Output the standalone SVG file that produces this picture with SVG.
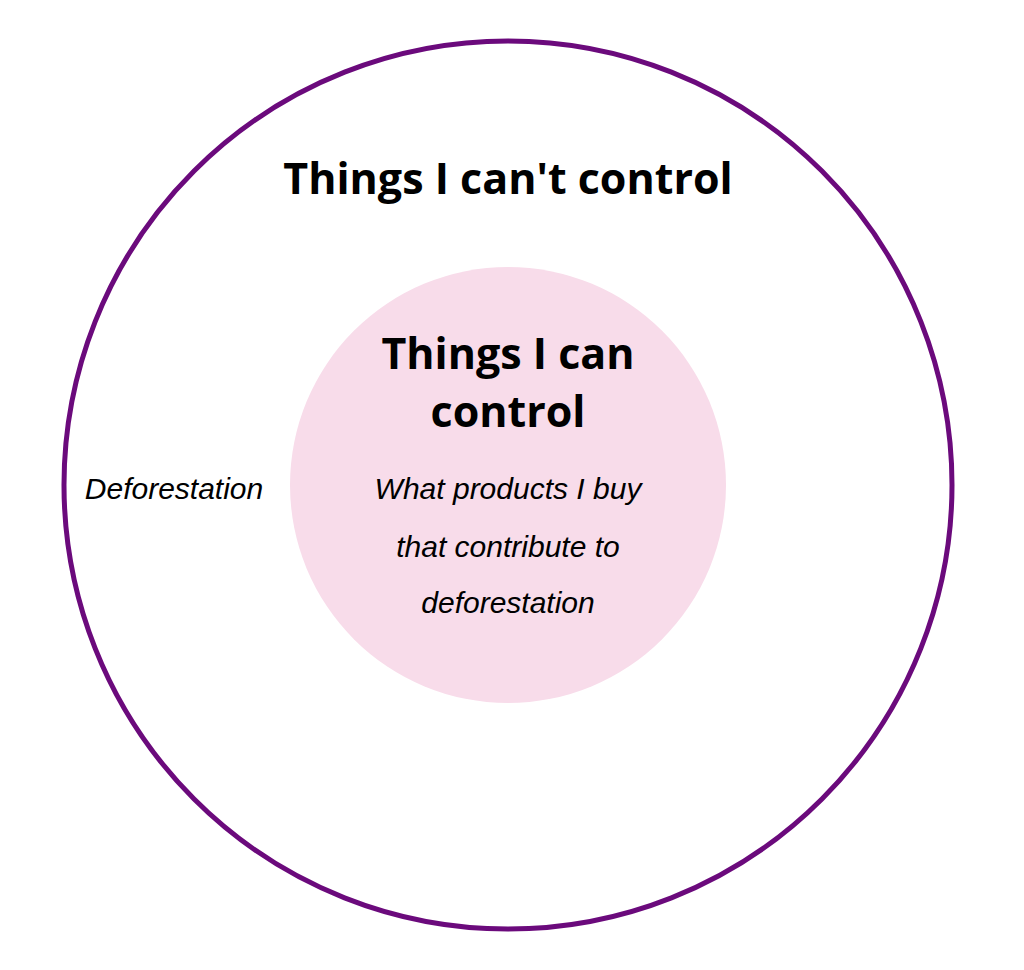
<svg xmlns="http://www.w3.org/2000/svg" width="1024" height="970" viewBox="0 0 1024 970">
<style>
.h{font-family:"Open Sans","Liberation Sans",sans-serif;font-weight:bold;font-size:43px;fill:#000;text-anchor:middle}
.s{font-family:"Liberation Sans",sans-serif;font-style:italic;font-size:30px;fill:#000;text-anchor:middle}
</style>
<rect width="1024" height="970" fill="#fff"/>
<g id="outer">
<circle cx="508" cy="485" r="444" fill="none" stroke="#6b0a7c" stroke-width="5"/>
<text class="h" x="508" y="194">Things I can't control</text>
<text class="s" x="174" y="499">Deforestation</text>
</g>
<g id="inner">
<circle cx="508" cy="485" r="218" fill="#f8dcea"/>
<text class="h" x="508" y="369">Things I can</text>
<text class="h" x="508" y="427">control</text>
<text class="s" x="508" y="499">What products I buy</text>
<text class="s" x="508" y="557">that contribute to</text>
<text class="s" x="508" y="613">deforestation</text>
</g>
<g id="connectors"/>
</svg>
